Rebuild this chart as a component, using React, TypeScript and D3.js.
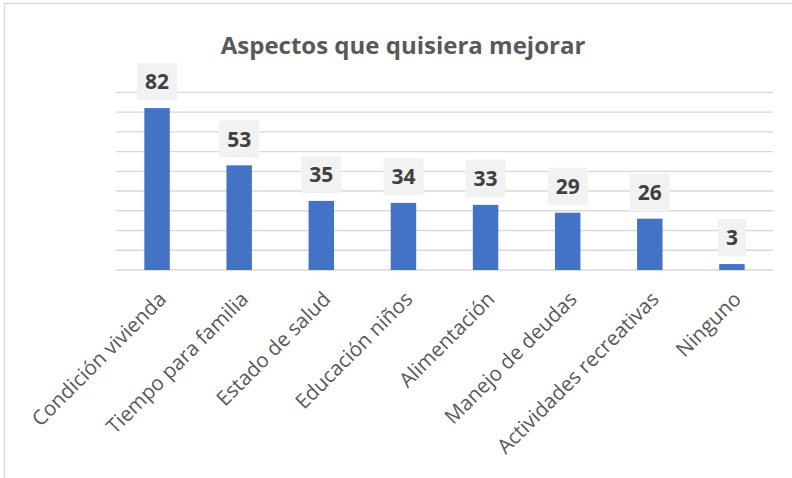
import * as d3 from "d3";
import {useEffect, useRef} from "react";

const categories = [
    "Condición vivienda",
    "Tiempo para familia",
    "Estado de salud",
    "Educación niños",
    "Alimentación",
    "Manejo de deudas",
    "Actividades recreativas",
    "Ninguno"
];
const values = [82, 53, 35, 34, 33, 29, 26, 3];
const gridTicks = [0, 10, 20, 30, 40, 50, 60, 70, 80, 90];
const title = "Aspectos que quisiera mejorar";

const width = 792;
const height = 478;

export default function App() {
    const svgRef = useRef(null);

    useEffect(() => {
        if (!svgRef.current) return;
        const svg = d3.select(svgRef.current);
        svg.selectAll("*").remove();

        const x = d3.scaleBand()
            .domain(categories)
            .range([116, 773])
            .paddingInner(0.69)
            .paddingOuter(0.345);

        const y = d3.scaleLinear()
            .domain([0, 90])
            .range([270, 92.3]);

        // chart frame
        svg.append("rect")
            .attr("x", 4.5)
            .attr("y", 3.5)
            .attr("width", 800)
            .attr("height", 500)
            .attr("fill", "#fff")
            .attr("stroke", "#d9d9d9")
            .attr("stroke-width", 1.3);

        svg.append("text")
            .attr("x", 403)
            .attr("y", 54)
            .attr("text-anchor", "middle")
            .attr("font-family", "'Open Sans', sans-serif")
            .attr("font-weight", "bold")
            .attr("font-size", 24)
            .attr("fill", "#595959")
            .text(title);

        // gridlines
        svg.append("g")
            .selectAll("line")
            .data(gridTicks)
            .join("line")
            .attr("x1", 116)
            .attr("x2", 773)
            .attr("y1", d => y(d))
            .attr("y2", d => y(d))
            .attr("stroke", "#d9d9d9")
            .attr("stroke-width", 1.3);

        const data = categories.map((c, i) => ({c, v: values[i]}));

        svg.append("g")
            .selectAll("rect")
            .data(data)
            .join("rect")
            .attr("x", d => x(d.c)!)
            .attr("y", d => y(d.v))
            .attr("width", x.bandwidth())
            .attr("height", d => y(0) - y(d.v))
            .attr("fill", "#4472c4");

        // data labels with boxes
        const labels = svg.append("g")
            .selectAll("g")
            .data(data)
            .join("g")
            .attr("transform", d => `translate(${x(d.c)! + x.bandwidth() / 2},${y(d.v) - 26.3})`);

        labels.append("rect")
            .attr("x", d => -(String(d.v).length * 12 + 16) / 2)
            .attr("y", -18.7)
            .attr("width", d => String(d.v).length * 12 + 16)
            .attr("height", 37.4)
            .attr("fill", "#f2f2f2");

        labels.append("text")
            .attr("text-anchor", "middle")
            .attr("y", 7.5)
            .attr("font-family", "'Open Sans', sans-serif")
            .attr("font-weight", "bold")
            .attr("font-size", 21)
            .attr("fill", "#404040")
            .text(d => d.v);

        // category labels
        svg.append("g")
            .selectAll("text")
            .data(categories)
            .join("text")
            .attr("transform", d => `translate(${x(d)! + x.bandwidth() / 2},290) rotate(-45)`)
            .attr("text-anchor", "end")
            .attr("dy", "0.72em")
            .attr("font-family", "'Open Sans', sans-serif")
            .attr("font-size", 20.5)
            .attr("fill", "#595959")
            .text(d => d);
    }, []);

    return (
        <svg ref={svgRef} width={width} height={height}
             style={{position: "absolute", left: 0, top: 0, background: "#fff"}}></svg>
    );
}
